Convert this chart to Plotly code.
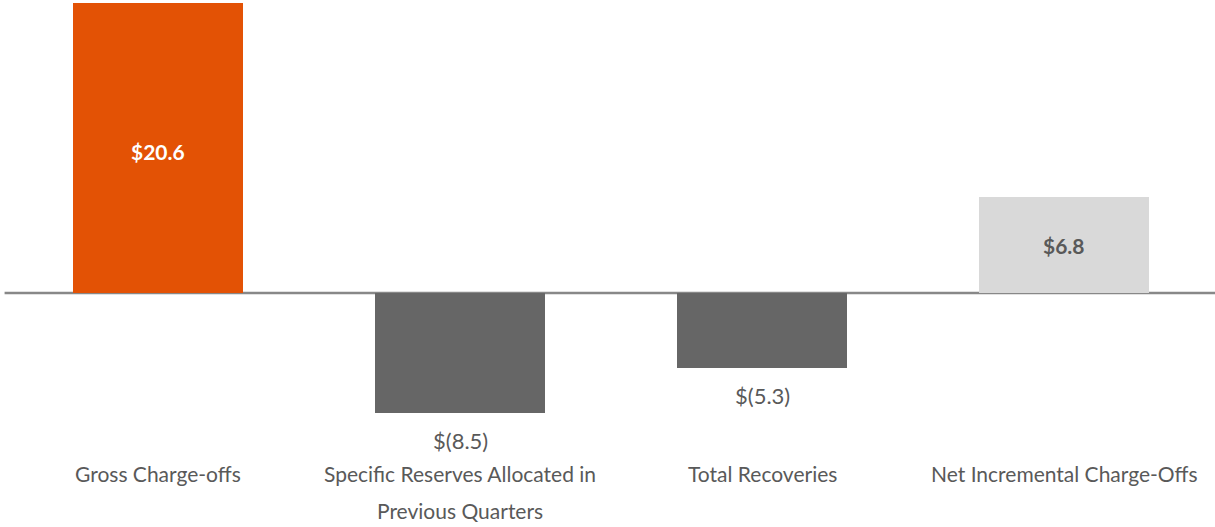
import plotly.graph_objects as go

categories = [
    "Gross Charge-offs",
    "Specific Reserves Allocated in<br>Previous Quarters",
    "Total Recoveries",
    "Net Incremental Charge-Offs",
]
values = [20.6, -8.5, -5.3, 6.8]
bar_colors = ["#E35205", "#666666", "#666666", "#D9D9D9"]


def fmt(v):
    return f"${v:.1f}" if v >= 0 else f"$({abs(v):.1f})"


fig = go.Figure()
fig.add_trace(go.Bar(
    x=categories,
    y=values,
    marker=dict(color=bar_colors, line=dict(width=0)),
    width=0.563,
    hoverinfo="skip",
))

label_font = dict(family="Lato", size=21, color="#595959")
annotations = []
for cat, v in zip(categories, values):
    if v > 0:
        color = "#FFFFFF" if v > 10 else "#595959"
        annotations.append(dict(
            x=cat, y=v / 2, xref="x", yref="y", text=f"<b>{fmt(v)}</b>",
            yshift=-4 if v > 10 else 0,
            showarrow=False, font=dict(family="Lato", size=21, color=color),
        ))
    else:
        annotations.append(dict(
            x=cat, y=v, xref="x", yref="y", text=fmt(v), yanchor="top",
            yshift=-12, showarrow=False,
            font=dict(family="Lato", size=22, color="#595959"),
        ))
    # category name, one annotation per line for wider line spacing
    for i, line in enumerate(cat.split("<br>")):
        annotations.append(dict(
            x=cat, y=-11.8, xref="x", yref="y", text=line, yanchor="top",
            yshift=-37 * i, showarrow=False, font=label_font,
        ))

fig.update_layout(
    width=1215, height=527,
    margin=dict(l=7, r=0, t=0, b=0),
    paper_bgcolor="white", plot_bgcolor="white",
    showlegend=False,
    bargap=0,
    xaxis=dict(range=[-0.5, 3.5], showticklabels=False, showgrid=False,
               zeroline=False, showline=False, ticks=""),
    yaxis=dict(range=[-16.62, 20.81], showticklabels=False, showgrid=False,
               zeroline=False, showline=False, ticks=""),
    annotations=annotations,
    shapes=[dict(type="line", xref="paper", yref="y", x0=-0.002, x1=1,
                 y0=0, y1=0, line=dict(color="#888888", width=2.5),
                 layer="below")],
)

fig.write_html("out.html")
